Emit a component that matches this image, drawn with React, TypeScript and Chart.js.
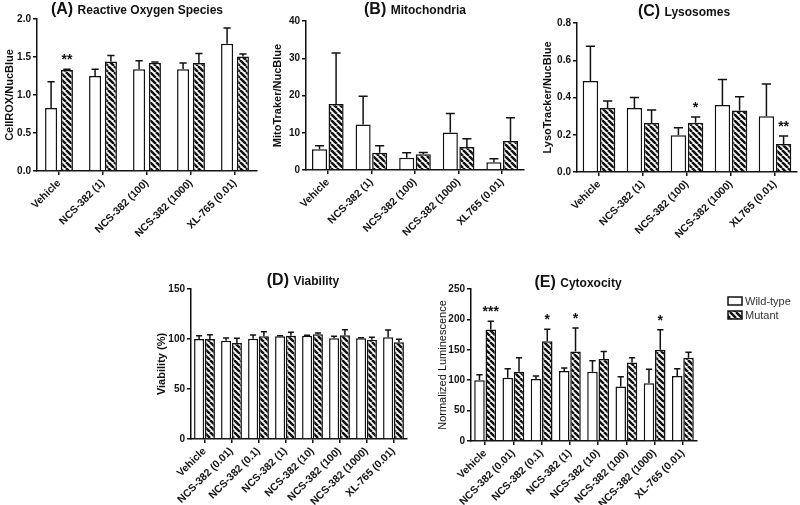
import React, { useEffect, useRef } from "react";
import { Chart, registerables } from "chart.js";
Chart.register(...registerables);

const FONT = '"Liberation Sans", Arial, Helvetica, sans-serif';
Chart.defaults.font.family = FONT;
Chart.defaults.color = "#111";

// ---------- Panel A: Reactive Oxygen Species ----------
const catsA = ["Vehicle", "NCS-382 (1)", "NCS-382 (100)", "NCS-382 (1000)", "XL-765 (0.01)"];
const wtA = [0.83, 1.25, 1.34, 1.34, 1.675];
const wtErrA = [1.175, 1.34, 1.45, 1.42, 1.88];
const mutA = [1.33, 1.44, 1.425, 1.42, 1.505];
const mutErrA = [1.34, 1.52, 1.435, 1.545, 1.54];
const starsA = ["**", "", "", "", ""];

// ---------- Panel B: Mitochondria ----------
const catsB = ["Vehicle", "NCS-382 (1)", "NCS-382 (100)", "NCS-382 (1000)", "XL765 (0.01)"];
const wtB = [5.6, 12.2, 3.3, 10.1, 2.1];
const wtErrB = [6.5, 19.8, 4.6, 15.2, 3.0];
const mutB = [17.7, 4.6, 4.2, 6.2, 7.8];
const mutErrB = [31.4, 6.5, 4.7, 8.4, 14.0];
const starsB = ["", "", "", "", ""];

// ---------- Panel C: Lysosomes ----------
const catsC = ["Vehicle", "NCS-382 (1)", "NCS-382 (100)", "NCS-382 (1000)", "XL765 (0.01)"];
const wtC = [0.489, 0.344, 0.197, 0.36, 0.30];
const wtErrC = [0.675, 0.40, 0.238, 0.497, 0.472];
const mutC = [0.344, 0.263, 0.265, 0.33, 0.15];
const mutErrC = [0.381, 0.333, 0.295, 0.404, 0.193];
const starsC = ["", "", "*", "", "**"];

// ---------- Panel D: Viability ----------
const catsD = ["Vehicle", "NCS-382 (0.01)", "NCS-382 (0.1)", "NCS-382 (1)", "NCS-382 (10)", "NCS-382 (100)", "NCS-382 (1000)", "XL-765 (0.01)"];
const wtD = [100, 98.3, 100.3, 102.7, 103.3, 100.7, 100.7, 101.7];
const wtErrD = [103.3, 101, 104, 103.3, 103.7, 102.7, 101.3, 109];
const mutD = [100, 96, 102.7, 103.3, 104.7, 103.7, 99.3, 96.7];
const mutErrD = [104.3, 100.7, 107.3, 106.7, 106, 109.3, 101.7, 99.7];
const starsD = ["", "", "", "", "", "", "", ""];

// ---------- Panel E: Cytoxocity ----------
const catsE = ["Vehicle", "NCS-382 (0.01)", "NCS-382 (0.1)", "NCS-382 (1)", "NCS-382 (10)", "NCS-382 (100)", "NCS-382 (1000)", "XL-765 (0.01)"];
const wtE = [100, 104, 102, 115, 114, 89.6, 95, 107];
const wtErrE = [109, 119, 107, 120, 132, 105.5, 118, 119];
const mutE = [183.5, 114, 164, 147, 135, 129, 150, 137];
const mutErrE = [197, 137, 184, 186, 147, 137, 183, 146];
const starsE = ["***", "", "*", "*", "", "", "*", ""];

const seriesNames = ["Wild-type", "Mutant"];

type Panel = {
  left: number; top: number; width: number; height: number;
  chartTop: number; chartBottom: number; yW: number; padR: number;
  cats: string[]; wt: number[]; wtErr: number[]; mut: number[]; mutErr: number[]; stars: string[];
  max: number; step: number; dec: number; yLabel: string; yTitlePad: number; yLabelBold: boolean;
  tag: string; title: string; titleX: number; titleBase: number;
  cat: number; bar: number; legend?: boolean;
};

const panels: Panel[] = [
  { left: 0, top: 0, width: 265, height: 268, chartTop: 19, chartBottom: 171, yW: 37, padR: 8,
    cats: catsA, wt: wtA, wtErr: wtErrA, mut: mutA, mutErr: mutErrA, stars: starsA,
    max: 2, step: 0.5, dec: 1, yLabel: "CellROX/NucBlue", yTitlePad: 3.4, yLabelBold: true,
    tag: "(A)", title: "Reactive Oxygen Species", titleX: 137, titleBase: 14, cat: 0.72, bar: 0.76 },
  { left: 265, top: 0, width: 265, height: 268, chartTop: 21, chartBottom: 170, yW: 41, padR: 6,
    cats: catsB, wt: wtB, wtErr: wtErrB, mut: mutB, mutErr: mutErrB, stars: starsB,
    max: 40, step: 10, dec: 0, yLabel: "MitoTraker/NucBlue", yTitlePad: 6.4, yLabelBold: true,
    tag: "(B)", title: "Mitochondria", titleX: 150, titleBase: 14, cat: 0.76, bar: 0.91 },
  { left: 530, top: 0, width: 270, height: 268, chartTop: 23, chartBottom: 172, yW: 47, padR: 3,
    cats: catsC, wt: wtC, wtErr: wtErrC, mut: mutC, mutErr: mutErrC, stars: starsC,
    max: 0.8, step: 0.2, dec: 1, yLabel: "LysoTracker/NucBlue", yTitlePad: 11.4, yLabelBold: true,
    tag: "(C)", title: "Lysosomes", titleX: 154, titleBase: 16, cat: 0.78, bar: 0.9 },
  { left: 150, top: 270, width: 270, height: 235, chartTop: 19, chartBottom: 169, yW: 41, padR: 13,
    cats: catsD, wt: wtD, wtErr: wtErrD, mut: mutD, mutErr: mutErrD, stars: starsD,
    max: 150, step: 50, dec: 0, yLabel: "Viability (%)", yTitlePad: 5.4, yLabelBold: true,
    tag: "(D)", title: "Viability", titleX: 153, titleBase: 15, cat: 0.8, bar: 0.93 },
  { left: 430, top: 270, width: 370, height: 235, chartTop: 19, chartBottom: 171, yW: 41, padR: 103,
    cats: catsE, wt: wtE, wtErr: wtErrE, mut: mutE, mutErr: mutErrE, stars: starsE,
    max: 250, step: 50, dec: 0, yLabel: "Normalized Luminescence", yTitlePad: 6.4, yLabelBold: false,
    tag: "(E)", title: "Cytoxocity", titleX: 148, titleBase: 17, cat: 0.8, bar: 0.93, legend: true },
];

function makePattern(ctx: CanvasRenderingContext2D): CanvasPattern {
  const s = 6;
  const c = document.createElement("canvas");
  c.width = s; c.height = s;
  const g = c.getContext("2d")!;
  g.fillStyle = "#fff";
  g.fillRect(0, 0, s, s);
  g.strokeStyle = "#111";
  g.lineWidth = 2.5;
  g.beginPath();
  for (const x0 of [-s, 0, s]) {
    g.moveTo(x0, 0);
    g.lineTo(x0 + s, s);
  }
  g.stroke();
  return ctx.createPattern(c, "repeat")!;
}

const errPlugin = {
  id: "errbars",
  afterDatasetsDraw(chart: any, _args: any, opts: any) {
    const ctx = chart.ctx as CanvasRenderingContext2D;
    const ys = chart.scales.y;
    ctx.save();
    ctx.strokeStyle = "#111";
    ctx.lineWidth = 1.5;
    (opts.errs as number[][]).forEach((errs, di) => {
      const meta = chart.getDatasetMeta(di);
      meta.data.forEach((bar: any, j: number) => {
        const x = bar.x;
        const yTop = bar.y;
        const yErr = ys.getPixelForValue(errs[j]);
        const cap = Math.max(5, bar.width * 0.6);
        ctx.beginPath();
        ctx.moveTo(x, yTop);
        ctx.lineTo(x, yErr);
        ctx.moveTo(x - cap / 2, yErr);
        ctx.lineTo(x + cap / 2, yErr);
        ctx.stroke();
        const st = di === 1 ? opts.stars[j] : "";
        if (st) {
          ctx.fillStyle = "#111";
          ctx.font = `bold 14px ${FONT}`;
          ctx.textAlign = "center";
          ctx.textBaseline = "alphabetic";
          ctx.fillText(st, x, yErr - 5);
        }
      });
    });
    ctx.restore();
  },
};

const titlePlugin = {
  id: "paneltitle",
  afterDraw(chart: any, _args: any, opts: any) {
    const ctx = chart.ctx as CanvasRenderingContext2D;
    ctx.save();
    ctx.fillStyle = "#111";
    ctx.textBaseline = "alphabetic";
    ctx.textAlign = "left";
    const f1 = `bold 16px ${FONT}`;
    const f2 = `bold 12px ${FONT}`;
    ctx.font = f1;
    const w1 = ctx.measureText(opts.tag + " ").width;
    ctx.font = f2;
    const w2 = ctx.measureText(opts.title).width;
    const x0 = opts.x - (w1 + w2) / 2;
    ctx.font = f1;
    ctx.fillText(opts.tag, x0, opts.y);
    ctx.font = f2;
    ctx.fillText(opts.title, x0 + w1, opts.y);
    ctx.restore();
  },
};

const legendPlugin = {
  id: "sidelegend",
  afterDraw(chart: any, _args: any, opts: any) {
    if (!opts.show) return;
    const ctx = chart.ctx as CanvasRenderingContext2D;
    const area = chart.chartArea;
    const bx = area.right + 31;
    ctx.save();
    chart.data.datasets.forEach((ds: any, i: number) => {
      const by = 27 + i * 14;
      ctx.fillStyle = ds.backgroundColor;
      ctx.fillRect(bx, by, 14, 8);
      ctx.strokeStyle = "#111";
      ctx.lineWidth = 1.5;
      ctx.strokeRect(bx, by, 14, 8);
      ctx.fillStyle = "#333";
      ctx.font = `11px ${FONT}`;
      ctx.textAlign = "left";
      ctx.textBaseline = "middle";
      ctx.fillText(ds.label, bx + 17, by + 4.5);
    });
    ctx.restore();
  },
};

function ChartPanel({ p }: { p: Panel }) {
  const ref = useRef<HTMLCanvasElement>(null);
  useEffect(() => {
    const ctx = ref.current!.getContext("2d")!;
    const pattern = makePattern(ctx);
    const axisGrid = { drawOnChartArea: false, drawTicks: true, tickLength: 4, color: "#111", lineWidth: 1.5, offset: false };
    const chart = new Chart(ctx, {
      type: "bar",
      data: {
        labels: p.cats,
        datasets: [
          { label: seriesNames[0], data: p.wt, backgroundColor: "#fff", borderColor: "#111", borderWidth: 1.5 },
          { label: seriesNames[1], data: p.mut, backgroundColor: pattern as any, borderColor: "#111", borderWidth: 1.5 },
        ],
      },
      options: {
        responsive: false,
        animation: false,
        devicePixelRatio: 1,
        layout: { padding: { top: p.chartTop, right: p.padR, left: 0, bottom: 0 } },
        datasets: { bar: { categoryPercentage: p.cat, barPercentage: p.bar } },
        plugins: {
          legend: { display: false },
          tooltip: { enabled: false },
          errbars: { errs: [p.wtErr, p.mutErr], stars: p.stars },
          paneltitle: { tag: p.tag, title: p.title, x: p.titleX, y: p.titleBase },
          sidelegend: { show: !!p.legend },
        } as any,
        scales: {
          x: {
            grid: axisGrid,
            border: { display: true, color: "#111", width: 1.5 },
            ticks: { minRotation: 45, maxRotation: 45, autoSkip: false, font: { size: 10.5, weight: "bold" }, color: "#111", padding: 2 },
            afterFit: (s: any) => { s.height = p.height - p.chartBottom; },
          },
          y: {
            min: 0,
            max: p.max,
            grid: axisGrid,
            border: { display: true, color: "#111", width: 1.5 },
            ticks: {
              stepSize: p.step,
              font: { size: 10, weight: "bold" },
              color: "#111",
              padding: 2,
              callback: (v: any) => Number(v).toFixed(p.dec),
            },
            title: {
              display: true,
              text: p.yLabel,
              font: { size: 11, weight: p.yLabelBold ? "bold" : "normal" },
              color: "#111",
              padding: { top: p.yTitlePad, bottom: 0 },
            },
            afterFit: (s: any) => { s.width = p.yW; },
          },
        },
      } as any,
      plugins: [errPlugin, titlePlugin, legendPlugin],
    });
    return () => chart.destroy();
  }, [p]);
  return (
    <canvas
      ref={ref}
      width={p.width}
      height={p.height}
      style={{ position: "absolute", left: p.left, top: p.top, display: "block" }}
    />
  );
}

export default function App() {
  return (
    <div style={{ position: "absolute", left: 0, top: 0, width: 800, height: 505, background: "#fff", overflow: "hidden" }}>
      {panels.map((p, i) => (
        <ChartPanel key={i} p={p} />
      ))}
    </div>
  );
}
